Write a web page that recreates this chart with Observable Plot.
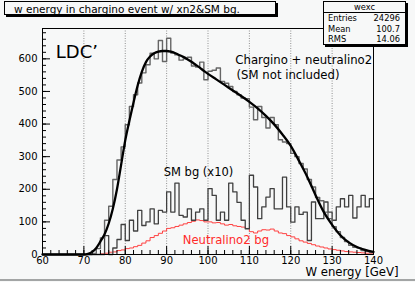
<!DOCTYPE html>
<html><head><meta charset="utf-8">
<script src="https://cdn.jsdelivr.net/npm/d3@7"></script>
<script src="https://cdn.jsdelivr.net/npm/@observablehq/plot@0.6"></script>
<style>
body{margin:0;background:#f7f8f8;}
#wrap{position:relative;width:415px;height:282px;overflow:hidden;font-family:"DejaVu Sans",sans-serif;color:#000;}
#wrap svg{position:absolute;left:0;top:0;}
.box{position:absolute;box-sizing:border-box;border:1px solid #000;box-shadow:2px 2px 0 #000;background:#f7f8f8;}
#title{left:4px;top:1px;width:272px;height:14px;font-size:10.5px;line-height:13px;padding-left:9px;padding-top:1px;white-space:nowrap;}
#stats{left:323px;top:1px;width:83px;height:44px;font-size:8.3px;}
#stats .hd{text-align:center;height:10px;line-height:10px;border-bottom:1px solid #000;}
#stats .row{display:flex;justify-content:space-between;height:10.7px;line-height:10.7px;padding:0 5px 0 4px;}
#bottomline{position:absolute;left:0;top:279px;width:415px;height:2px;background:#a3a5a5;}
</style></head>
<body><div id="wrap"></div>
<script>
// bin lower edges (1 GeV bins from 60 to 140) plus final edge
const binEdges = d3.range(60, 141, 1);
// Chargino + neutralino2 histogram (bins 60..139)
const mainCounts = [
  0,0,0,0,0,0,0,0,0,0, 0,0,3,18,51,105,148,230,290,330,
  398,454,490,526,557,582,617,600,656,592, 663,618,612,596,600,605,578,575,590,536,
  562,565,572,531,525,515,500,490,480,478, 452,413,454,420,388,420,398,352,345,340,
  310,300,279,262,230,207,175,165,130,110, 85,70,52,40,28,22,20,12,10,6
];
// SM background (x10)
const smCounts = [
  0,0,0,0,0,0,0,0,0,0, 0,0,0,0,0,58,0,20,46,92,
  43,105,72,135,89,100,140,94,135,130, 192,130,219,120,115,140,105,130,140,105,
  202,181,105,130,105,219,192,160,105,79, 243,207,110,146,176,202,140,140,237,146,
  99,146,123,130,43,161,110,110,161,130, 105,146,171,146,181,112,146,181,146,171
];
// Neutralino2 background
const n2Counts = [
  0,0,0,0,0,0,0,0,0,0, 0,0,0,0,2,4,7,8,12,14,
  18,20,24,28,35,42,52,58,65,72, 80,82,86,90,94,98,102,106,104,100,
  100,97,98,94,90,92,88,86,84,80, 70,66,72,76,75,78,72,66,64,58,
  54,48,42,38,34,30,26,23,20,17, 15,13,11,9,8,7,6,5,4,4
];
// fit curve
const fitE = [60,65,69,70,71,72,73,74,75,76,77,78,79,80,81,82,83,84,85,86,87,88,89,90,91,92,93,94,95,96,97,98,99,100,102,104,106,108,110,112,114,116,118,120,122,124,126,128,130,132,134,136,138,140];
const fitV = [0,0,0,0,2,8,20,40,62,95,140,200,275,350,410,466,518,560,590,607,617,622,624,624,622,618,612,606,599,591,582,573,563,554,537,520,503,486,468,448,425,399,368,333,287,238,182,130,91,59,37,23,14,8];

const xTicks = [60,70,80,90,100,110,120,130,140];
const xMinor = d3.range(60, 141, 2);
const xGrid = [70,80,90,100,110,120,130];
const yTicks = [0,100,200,300,400,500,600];
const yMinor = d3.range(0, 681, 20);

const notes = [
  {x: 63.2, y: 621, text: "LDC\u2019", size: 18, color: "#000"},
  {x: 106.6, y: 597, text: "Chargino + neutralino2", size: 11.7, color: "#000"},
  {x: 106.9, y: 551, text: "(SM not included)", size: 11.7, color: "#000"},
  {x: 89.3, y: 252, text: "SM bg (x10)", size: 11.5, color: "#000"},
  {x: 93.9, y: 43, text: "Neutralino2 bg", size: 11.6, color: "#ff2a2a"}
];

function steps(counts){
  return binEdges.map((e,i)=>({x:e, y:counts[Math.min(i, counts.length-1)]}));
}
const fit = fitE.map((e,i)=>({x:e, y:fitV[i]}));

const chart = Plot.plot({
  width: 415, height: 282,
  marginLeft: 42, marginRight: 42, marginTop: 28, marginBottom: 28,
  x: {domain: [60,140], label: null},
  y: {domain: [0,693], label: null},
  style: {background: "transparent", fontFamily: "DejaVu Sans, sans-serif", fontSize: "10px", color: "#000", overflow: "visible"},
  marks: [
    Plot.gridX(xGrid, {stroke: "#777", strokeOpacity: 1, strokeWidth: 0.8, strokeDasharray: "1,1.5"}),
    Plot.line(steps(n2Counts), {x:"x", y:"y", curve:"step-after", stroke:"#ff4040", strokeWidth:1}),
    Plot.line(steps(smCounts), {x:"x", y:"y", curve:"step-after", stroke:"#404040", strokeWidth:1.3}),
    Plot.line(steps(mainCounts), {x:"x", y:"y", curve:"step-after", stroke:"#666", strokeWidth:1.4}),
    Plot.line(fit, {x:"x", y:"y", curve:"monotone-x", stroke:"#000", strokeWidth:2.3}),
    Plot.frame({stroke:"#000", strokeWidth: 1}),
    Plot.axisX({ticks: xTicks, tickSize: -8, tickPadding: 10, label: null}),
    Plot.axisX({ticks: xMinor, tickSize: -4, tickFormat: () => "", label: null}),
    Plot.axisY({ticks: yTicks, tickSize: -8, tickPadding: 13, label: null}),
    Plot.axisY({ticks: yMinor, tickSize: -4, tickFormat: () => "", label: null}),
    Plot.text(notes, {x:"x", y:"y", text:"text", fontSize: d => d.size, fill: d => d.color, textAnchor:"start", lineAnchor:"middle"}),
    Plot.text(["W energy [GeV]"], {frameAnchor:"bottom-right", dx: 25, dy: 18, fontSize: 11.7, textAnchor:"end", lineAnchor:"middle"})
  ]
});
const wrap = document.getElementById("wrap");
wrap.appendChild(chart);
wrap.insertAdjacentHTML("beforeend",
 `<div id="title" class="box">w energy in chargino event w/ xn2&amp;SM bg.</div>
  <div id="stats" class="box"><div class="hd">wexc</div>
   <div class="row"><span>Entries</span><span>24296</span></div>
   <div class="row"><span>Mean</span><span>100.7</span></div>
   <div class="row"><span>RMS</span><span>14.06</span></div></div>
  <div id="bottomline"></div>`);
</script></body></html>
